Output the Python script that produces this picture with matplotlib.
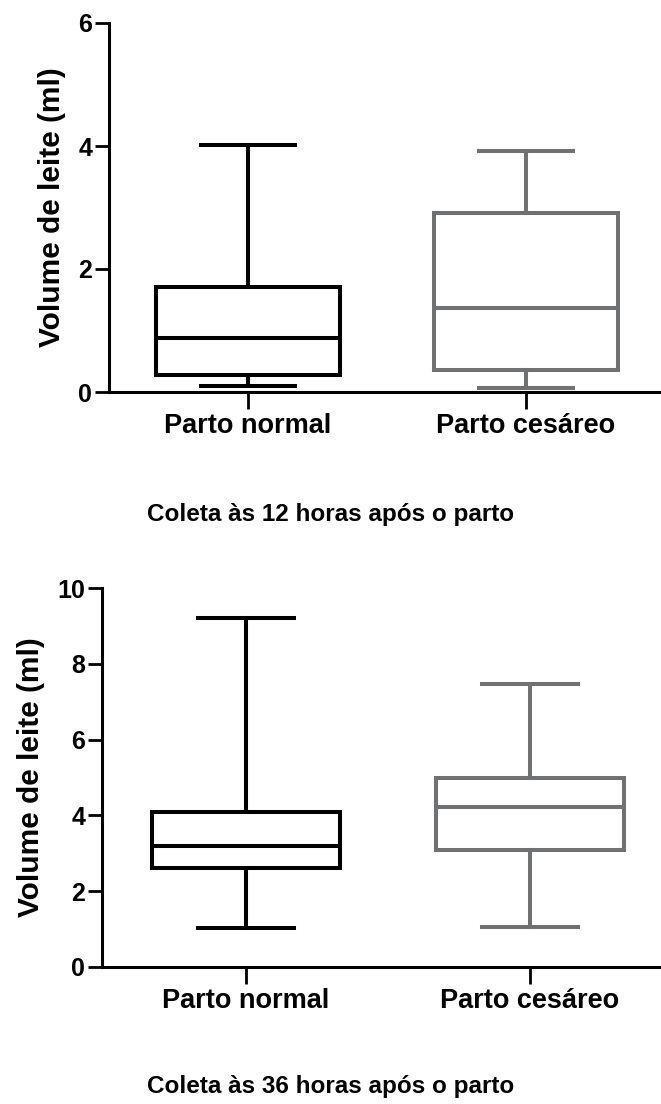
import matplotlib
matplotlib.use('Agg')
import matplotlib.pyplot as plt

plt.rcParams['font.family'] = ['Liberation Sans', 'DejaVu Sans']
plt.rcParams['font.weight'] = 'bold'

grupos = ['Parto normal', 'Parto cesáreo']
cores = ['black', '#707173']

# coleta 12 horas
min_12 = [0.10, 0.06]
q1_12 = [0.28, 0.36]
med_12 = [0.88, 1.37]
q3_12 = [1.71, 2.91]
max_12 = [4.02, 3.92]

# coleta 36 horas
min_36 = [1.03, 1.06]
q1_36 = [2.61, 3.09]
med_36 = [3.19, 4.22]
q3_36 = [4.09, 4.99]
max_36 = [9.21, 7.47]

W, H = 661, 1104


def caixas(ax, mins, q1s, meds, q3s, maxs, ymax, yticks):
    for i in range(len(grupos)):
        st = [{'whislo': mins[i], 'q1': q1s[i], 'med': meds[i],
               'q3': q3s[i], 'whishi': maxs[i], 'label': grupos[i]}]
        lp = dict(color=cores[i], linewidth=2.9, solid_joinstyle='miter')
        ax.bxp(st, positions=[i + 1], widths=0.665, capwidths=0.335,
               showfliers=False, boxprops=lp, medianprops=lp,
               whiskerprops=lp, capprops=lp)
    ax.set_ylim(0, ymax)
    ax.set_yticks(yticks)
    ax.set_xticks([1, 2])
    ax.set_xticklabels(grupos)
    ax.spines['top'].set_visible(False)
    ax.spines['right'].set_visible(False)
    ax.spines['left'].set_linewidth(2.2)
    ax.spines['bottom'].set_linewidth(2.2)
    ax.tick_params(axis='y', labelsize=18, length=10, width=2, pad=2)
    ax.tick_params(axis='x', labelsize=19.5, length=12, width=2, pad=3)
    ax.set_ylabel('Volume de leite (ml)', fontsize=21.5, fontweight='bold', labelpad=9)
    for t in ax.get_xticklabels() + ax.get_yticklabels():
        t.set_fontweight('bold')


fig = plt.figure(figsize=(W / 100, H / 100), dpi=100)

ax1 = fig.add_axes([109 / W, (H - 392) / H, (W - 109) / W, (392 - 23) / H])
caixas(ax1, min_12, q1_12, med_12, q3_12, max_12, 6, [0, 2, 4, 6])
ax1.set_xlim(0.5, 0.5 + (W - 109) / 278)

ax2 = fig.add_axes([102 / W, (H - 967) / H, (W - 102) / W, (967 - 588) / H])
caixas(ax2, min_36, q1_36, med_36, q3_36, max_36, 10, [0, 2, 4, 6, 8, 10])
ax2.set_xlim(0.493, 0.493 + (W - 102) / 284)

fig.text(0.5, 1 - 514 / H, 'Coleta às 12 horas após o parto', ha='center',
         va='center', fontsize=17.5, fontweight='bold')
fig.text(0.5, 1 - 1086 / H, 'Coleta às 36 horas após o parto', ha='center',
         va='center', fontsize=17.5, fontweight='bold')

fig.savefig('out.png', dpi=100)
